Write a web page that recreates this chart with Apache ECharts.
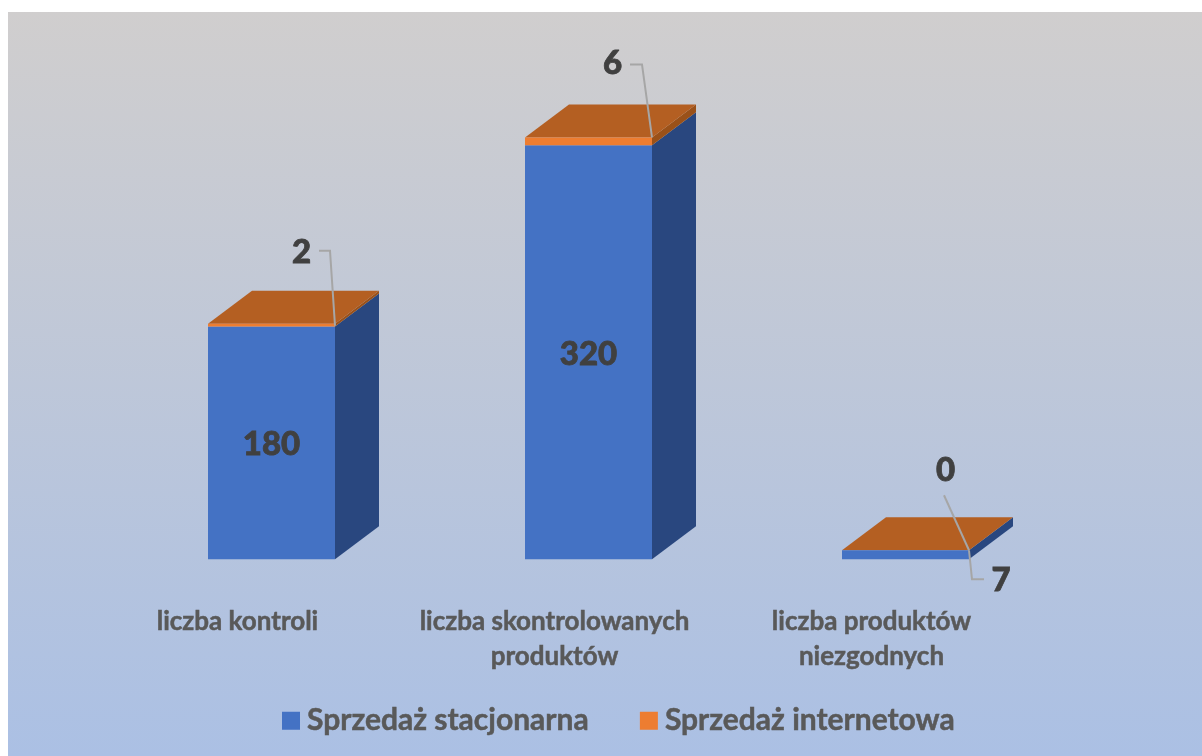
<!DOCTYPE html>
<html>
<head>
<meta charset="utf-8">
<style>
html,body{margin:0;padding:0;background:#fff;width:1202px;height:756px;overflow:hidden}
#c{position:absolute;left:8px;top:12px;width:1194px;height:744px}
</style>
<script src="https://cdn.jsdelivr.net/npm/echarts@6/dist/echarts.min.js"></script>
</head>
<body>
<div id="c"></div>
<script>
const categories = ['liczba kontroli', 'liczba skontrolowanych\nproduktów', 'liczba produktów\nniezgodnych'];
const stacjonarna = [180, 320, 7];
const internetowa = [2, 6, 0];

const FONT = 'Lato, "Open Sans", sans-serif';
const BAR_W = 127, DX = 44, DY = 33;
const BLUE = '#4472c4', ORANGE = '#ed7d31', BLUE_SIDE = '#29477f', ORANGE_TOP = '#b45f22', ORANGE_SIDE = '#9a5119';
const blueLabelShift = [[0, 2], [0, 2], [95.5, 26]];
const orangeLabelShift = [[30, -73], [24, -78], [40, -80]];
const orangeLeader = [[[0, 2], [-5, -73], [-16, -73]], [[0, 0], [-10, -73], [-22, -73]], [[0, 0], [-25, -55]]];
const blueLeader = [null, null, [[0, 0], [3, 29], [15, 29]]];

const chart = echarts.init(document.getElementById('c'), null, {renderer: 'canvas'});

function renderSolid(params, api) {
  const i = api.value(0), a = api.value(1), b = api.value(2);
  const x0 = api.coord([i, 0])[0] - BAR_W / 2, x1 = x0 + BAR_W;
  const y0 = api.coord([i, 0])[1], ya = api.coord([i, a])[1], yb = api.coord([i, a + b])[1];
  const poly = (pts, fill) => ({type: 'polygon', shape: {points: pts}, style: {fill: fill}});
  return {type: 'group', children: [
    poly([[x1, y0], [x1 + DX, y0 - DY], [x1 + DX, ya - DY], [x1, ya]], BLUE_SIDE),
    poly([[x1, ya], [x1 + DX, ya - DY], [x1 + DX, yb - DY], [x1, yb]], ORANGE_SIDE),
    poly([[x0, yb], [x0 + DX, yb - DY], [x1 + DX, yb - DY], [x1, yb]], ORANGE_TOP)
  ]};
}
function renderLeaders(params, api) {
  const i = api.value(0), a = api.value(1), b = api.value(2);
  const x1 = api.coord([i, 0])[0] + BAR_W / 2;
  const yb = api.coord([i, a + b])[1], ya = api.coord([i, a])[1];
  const line = (off, y) => ({type: 'polyline', shape: {points: off.map(p => [x1 + p[0], y + p[1]])},
    style: {stroke: '#a6a6a6', lineWidth: 2, fill: null}});
  const kids = [line(orangeLeader[i], yb)];
  if (blueLeader[i]) kids.push(line(blueLeader[i], ya));
  return {type: 'group', children: kids};
}
const solidData = categories.map((c, i) => [i, stacjonarna[i], internetowa[i]]);
const labelStyle = {show: true, position: 'inside', fontFamily: FONT, fontWeight: 900, fontSize: 33, color: '#404040',
  textBorderColor: '#404040', textBorderWidth: 0.8};

chart.setOption({
  animation: false,
  backgroundColor: new echarts.graphic.LinearGradient(0, 0, 0, 1, [
    {offset: 0, color: '#d0cece'}, {offset: 1, color: '#abc0e4'}
  ]),
  grid: {left: 105, width: 951, top: 29.7, height: 517.6},
  xAxis: {
    type: 'category', data: categories,
    axisLine: {show: false}, axisTick: {show: false},
    axisLabel: {interval: 0, margin: 45, lineHeight: 35, fontFamily: FONT, fontWeight: 'bold', fontSize: 26,
      color: '#595959', textBorderColor: '#595959', textBorderWidth: 0.5, padding: [0, 68, 0, 0]}
  },
  yAxis: {type: 'value', min: 0, max: 400, show: false},
  legend: {
    data: ['Sprzedaż stacjonarna', 'Sprzedaż internetowa'],
    left: 269, top: 688.5, itemWidth: 18, itemHeight: 18, itemGap: 51,
    icon: 'rect',
    textStyle: {fontFamily: FONT, fontWeight: 'bold', fontSize: 30, color: '#595959',
      textBorderColor: '#595959', textBorderWidth: 0.5, padding: [0, 0, 0, 2]}
  },
  series: [
    {type: 'custom', name: 'bryła', data: solidData, renderItem: renderSolid, silent: true, z: 1},
    {type: 'bar', name: 'Sprzedaż stacjonarna', stack: 's', data: stacjonarna, barWidth: BAR_W,
      itemStyle: {color: BLUE}, label: labelStyle, z: 2,
      labelLayout: p => ({dx: blueLabelShift[p.dataIndex][0], dy: blueLabelShift[p.dataIndex][1]})},
    {type: 'bar', name: 'Sprzedaż internetowa', stack: 's', data: internetowa, barWidth: BAR_W,
      itemStyle: {color: ORANGE}, label: labelStyle, z: 2,
      labelLayout: p => ({dx: orangeLabelShift[p.dataIndex][0], dy: orangeLabelShift[p.dataIndex][1]})},
    {type: 'custom', name: 'linie', data: solidData, renderItem: renderLeaders, silent: true, z: 3}
  ]
});
</script>
</body>
</html>
